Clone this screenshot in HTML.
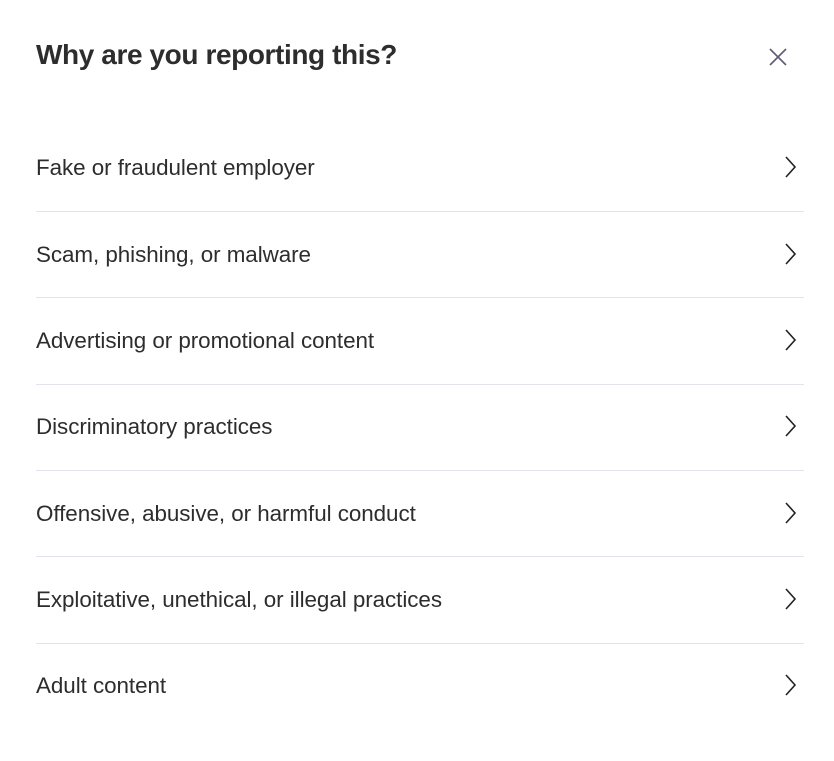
<!DOCTYPE html>
<html><head><style>
body{margin:0;width:834px;height:736px;background:#fff;font-family:"Liberation Sans",sans-serif;color:#2d2d2d;position:relative;overflow:hidden}
h1{position:absolute;left:36px;top:40px;margin:0;font-size:28px;font-weight:bold;letter-spacing:-0.4px;color:#2d2d2d;line-height:1.1}
.x{position:absolute;left:768px;top:47px}
.item{position:absolute;left:36px;width:768px;height:86px;font-size:22.4px;letter-spacing:-0.05px}
.item span{position:absolute;left:0;top:0;line-height:1}
.item svg{position:absolute;left:748px;top:-1px}
.line{position:absolute;left:36px;width:768px;height:1px;background:#e4e2ee}
</style></head><body>
<h1>Why are you reporting this?</h1>
<svg class="x" width="20" height="20" viewBox="0 0 20 20"><path d="M2 2L18 18M18 2L2 18" stroke="#5c5a78" stroke-width="1.6" fill="none"/></svg>

<div class="item" style="top:157px"><span>Fake or fraudulent employer</span><svg width="14" height="22" viewBox="0 0 14 22"><path d="M2 1L11 11L2 21" stroke="#222" stroke-width="1.6" fill="none"/></svg></div>
<div class="line" style="top:211px"></div>
<div class="item" style="top:244px"><span>Scam, phishing, or malware</span><svg width="14" height="22" viewBox="0 0 14 22"><path d="M2 1L11 11L2 21" stroke="#222" stroke-width="1.6" fill="none"/></svg></div>
<div class="line" style="top:297px"></div>
<div class="item" style="top:330px"><span>Advertising or promotional content</span><svg width="14" height="22" viewBox="0 0 14 22"><path d="M2 1L11 11L2 21" stroke="#222" stroke-width="1.6" fill="none"/></svg></div>
<div class="line" style="top:384px"></div>
<div class="item" style="top:416px"><span>Discriminatory practices</span><svg width="14" height="22" viewBox="0 0 14 22"><path d="M2 1L11 11L2 21" stroke="#222" stroke-width="1.6" fill="none"/></svg></div>
<div class="line" style="top:470px"></div>
<div class="item" style="top:503px"><span>Offensive, abusive, or harmful conduct</span><svg width="14" height="22" viewBox="0 0 14 22"><path d="M2 1L11 11L2 21" stroke="#222" stroke-width="1.6" fill="none"/></svg></div>
<div class="line" style="top:556px"></div>
<div class="item" style="top:589px"><span>Exploitative, unethical, or illegal practices</span><svg width="14" height="22" viewBox="0 0 14 22"><path d="M2 1L11 11L2 21" stroke="#222" stroke-width="1.6" fill="none"/></svg></div>
<div class="line" style="top:643px"></div>
<div class="item" style="top:675px"><span>Adult content</span><svg width="14" height="22" viewBox="0 0 14 22"><path d="M2 1L11 11L2 21" stroke="#222" stroke-width="1.6" fill="none"/></svg></div>
</body></html>
